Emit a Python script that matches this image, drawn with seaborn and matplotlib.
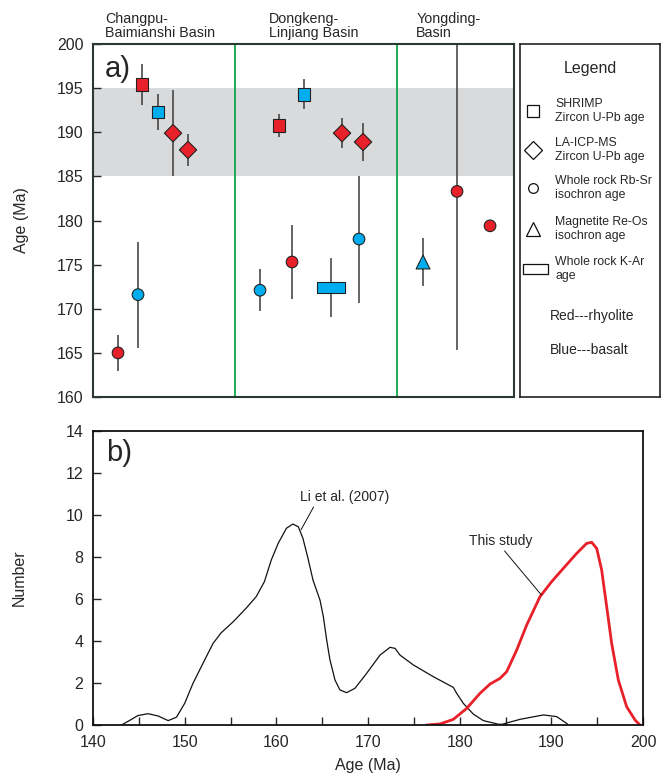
import numpy as np
import pandas as pd
import matplotlib
matplotlib.use("Agg")
import matplotlib.pyplot as plt
from matplotlib.path import Path
import seaborn as sns

sns.set_style("ticks")
plt.rcParams["font.family"] = ["Liberation Sans", "DejaVu Sans"]

# ---------------- panel a: published ages by basin ----------------
basins = ["Changpu-\nBaimianshi Basin", "Dongkeng-\nLinjiang Basin", "Yongding-\nBasin"]
pos = [2.5, 4.5, 4.9, 6.5, 8.0, 9.5,
       16.7, 18.6, 19.9, 21.1, 23.8, 24.9, 26.6, 27.0,
       33.0, 36.4, 39.7]
age = [165.0, 171.6, 195.4, 192.3, 189.9, 188.0,
       172.1, 190.8, 175.3, 194.3, 172.4, 189.9, 177.9, 188.9,
       175.3, 183.3, 179.4]
err = [2.0, 6.0, 2.3, 2.0, 4.9, 1.8,
       2.4, 1.3, 4.2, 1.7, 3.3, 1.7, 7.2, 2.2,
       2.7, 18.0, 0.0]
method = ["RbSr", "RbSr", "SHRIMP", "SHRIMP", "LA", "LA",
          "RbSr", "SHRIMP", "RbSr", "SHRIMP", "KAr", "LA", "RbSr", "LA",
          "ReOs", "RbSr", "RbSr"]
rock = ["rhyolite", "basalt", "rhyolite", "basalt", "rhyolite", "rhyolite",
        "basalt", "rhyolite", "rhyolite", "basalt", "basalt", "rhyolite", "basalt", "rhyolite",
        "basalt", "rhyolite", "rhyolite"]
basin_edges = [14.2, 30.4]
band = (185, 195)

legend_labels = ["SHRIMP\nZircon U-Pb age", "LA-ICP-MS\nZircon U-Pb age",
                 "Whole rock Rb-Sr\nisochron age", "Magnetite Re-Os\nisochron age",
                 "Whole rock K-Ar\nage"]

# ---------------- panel b: age probability curves ----------------
li_age = [143.1, 144.0, 144.9, 146.0, 147.1, 148.2, 149.1, 150.0, 150.9, 152.0,
          153.1, 154.0, 155.3, 156.7, 157.8, 158.7, 159.45, 160.2, 161.1, 161.8,
          162.4, 162.9, 163.45, 164.0, 164.76, 165.13, 165.49, 165.85, 166.4, 166.94,
          167.67, 168.58, 169.85, 171.31, 172.4, 172.95, 173.49, 174.95, 177.13, 179.31,
          179.67, 180.4, 181.49, 182.58, 184.2, 184.58, 186.58, 189.13, 190.58, 191.67,
          191.85]
li_num = [0.0, 0.22, 0.45, 0.54, 0.43, 0.21, 0.37, 1.03, 1.98, 2.94,
          3.89, 4.40, 4.92, 5.56, 6.11, 6.83, 7.86, 8.65, 9.37, 9.57,
          9.44, 8.89, 7.94, 6.90, 5.95, 5.16, 4.05, 3.10, 2.14, 1.67,
          1.54, 1.75, 2.46, 3.33, 3.70, 3.65, 3.33, 2.86, 2.30, 1.79,
          1.51, 1.03, 0.52, 0.21, 0.04, 0.03, 0.27, 0.48, 0.40, 0.08,
          0.0]
ts_age = [176.4, 177.85, 179.31, 180.76, 182.22, 183.31, 184.4, 185.13, 186.22, 187.31,
          188.76, 190.04, 191.31, 192.76, 193.85, 194.4, 194.95, 195.49, 196.04, 196.58,
          197.31, 198.22, 199.13, 199.67]
ts_num = [0.0, 0.05, 0.27, 0.79, 1.51, 1.95, 2.22, 2.54, 3.57, 4.76,
          6.11, 6.83, 7.46, 8.17, 8.65, 8.70, 8.41, 7.38, 5.63, 3.89,
          2.14, 0.87, 0.24, 0.0]

RED = "#E8202A"
BLUE = "#00AEEF"
GREEN = "#1DAA55"

kar = Path([(-1, -0.38), (1, -0.38), (1, 0.38), (-1, 0.38), (-1, -0.38)],
           [Path.MOVETO, Path.LINETO, Path.LINETO, Path.LINETO, Path.CLOSEPOLY])
marker_map = {"SHRIMP": "s", "LA": "D", "RbSr": "o", "ReOs": "^", "KAr": kar}
size_map = {"SHRIMP": 82, "LA": 78, "RbSr": 70, "ReOs": 100, "KAr": 400}
palette = {"rhyolite": RED, "basalt": BLUE}

df = pd.DataFrame({"pos": pos, "age": age, "err": err,
                   "method": method, "rock": rock})

fig = plt.figure(figsize=(6.62, 7.78), dpi=100)
ax = fig.add_axes([0.1405, 0.4897, 0.636, 0.4537])
axl = fig.add_axes([0.7855, 0.4897, 0.2115, 0.4537])
axb = fig.add_axes([0.1405, 0.0681, 0.8308, 0.3779])

# ---- panel a ----
ax.axhspan(*band, color="#D9DADB", lw=0, zorder=0)
for xe in basin_edges:
    ax.axvline(xe, color=GREEN, lw=1.4, zorder=1)
has_err = df[df["err"] > 0]
ax.vlines(has_err["pos"], has_err["age"] - has_err["err"], has_err["age"] + has_err["err"],
          color="#3a3a3a", lw=1.1, zorder=2)
sns.scatterplot(data=df, x="pos", y="age", hue="rock", style="method", size="method",
                palette=palette, markers=marker_map, sizes=size_map,
                edgecolor="#222222", linewidth=0.8, legend=False, zorder=3, ax=ax)
ax.set_xlim(0, 42.1)
ax.set_ylim(160, 200)
ax.set_yticks(np.arange(160, 201, 5))
ax.set_xticks([])
ax.set_xlabel("")
ax.set_ylabel("Age (Ma)", fontsize=11.5, labelpad=20)
ax.tick_params(axis="y", direction="in", length=6, width=1, labelsize=11.5, pad=7)
for s in ax.spines.values():
    s.set_color("#2a3a30")
    s.set_linewidth(1.5)
ax.text(0.028, 0.97, "a)", transform=ax.transAxes, fontsize=21, va="top", ha="left")
basin_x = [0.028, 0.418, 0.768]
for bx, name in zip(basin_x, basins):
    ax.text(bx, 1.012, name, transform=ax.transAxes, fontsize=10.3, ha="left",
            va="bottom", linespacing=1.0)

# ---- legend panel ----
axl.set_xlim(0, 1)
axl.set_ylim(0, 1)
axl.set_xticks([])
axl.set_yticks([])
for s in axl.spines.values():
    s.set_color("#222222")
    s.set_linewidth(1.2)
axl.text(0.5, 0.932, "Legend", ha="center", va="center", fontsize=11.5)
sym_y = [0.810, 0.700, 0.592, 0.476, 0.363]
sym_keys = ["SHRIMP", "LA", "RbSr", "ReOs", "KAr"]
sym_ms = [8.0, 9.0, 7.0, 10.0, 18.0]
sym_x = [0.093, 0.093, 0.093, 0.093, 0.107]
for key, y, ms, sx, lab in zip(sym_keys, sym_y, sym_ms, sym_x, legend_labels):
    axl.plot([sx], [y], marker=marker_map[key], ms=ms, mfc="white", mec="#111111",
             mew=0.9, ls="none")
    axl.text(0.25, y, lab, ha="left", va="center", fontsize=8.8, linespacing=1.15)
axl.text(0.214, 0.229, "Red---rhyolite", ha="left", va="center", fontsize=10)
axl.text(0.214, 0.133, "Blue---basalt", ha="left", va="center", fontsize=10)

# ---- panel b ----
sns.lineplot(x=li_age, y=li_num, sort=False, color="#111111", lw=0.9, ax=axb)
sns.lineplot(x=ts_age, y=ts_num, sort=False, color=RED, lw=2.0, ax=axb)
axb.set_xlim(140, 200)
axb.set_ylim(0, 14)
axb.set_xticks(np.arange(140, 201, 10))
axb.set_xticks(np.arange(145, 200, 10), minor=True)
axb.set_yticks(np.arange(0, 15, 2))
axb.tick_params(axis="both", which="major", direction="in", length=6, width=1,
                labelsize=11.5, pad=7)
axb.tick_params(axis="x", which="minor", direction="in", length=6, width=1)
for s in axb.spines.values():
    s.set_color("#111111")
    s.set_linewidth(1.3)
axb.set_xlabel("Age (Ma)", fontsize=11.5, labelpad=6)
axb.set_ylabel("Number", fontsize=11.5, labelpad=28)
axb.text(141.4, 13.6, "b)", fontsize=21, va="top", ha="left")
axb.annotate("Li et al. (2007)", xy=(162.7, 9.3), xytext=(162.6, 10.87),
             fontsize=10, ha="left", va="center",
             arrowprops=dict(arrowstyle="-", color="#111111", lw=0.7,
                             shrinkA=0, shrinkB=0, relpos=(0.17, 0.0)))
axb.annotate("This study", xy=(188.9, 6.2), xytext=(181.0, 8.78),
             fontsize=10, ha="left", va="center",
             arrowprops=dict(arrowstyle="-", color="#111111", lw=0.7,
                             shrinkA=0, shrinkB=0, relpos=(0.52, 0.0)))

fig.savefig("out.png", dpi=100)
